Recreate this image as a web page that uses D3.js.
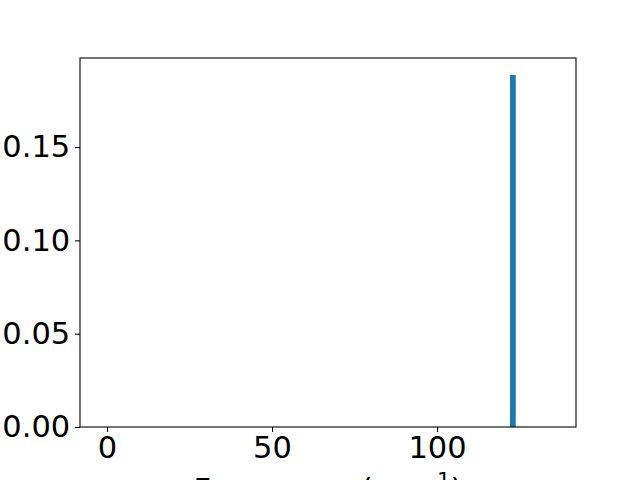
<!DOCTYPE html>
<html>
<head>
<meta charset="utf-8">
<script src="https://cdn.jsdelivr.net/npm/d3@7"></script>
<style>
  body { margin: 0; background: #fff; }
  svg { display: block; font-family: "DejaVu Sans", sans-serif; }
</style>
</head>
<body>
<div id="chart"></div>
<script>
// histogram bins (cm^-1) and density heights
const binStarts = [122.1];
const binEnds = [123.85];
const binHeights = [0.1886];
const xTicks = [0, 50, 100];
const yTicks = [0, 0.05, 0.10, 0.15];

const width = 640, height = 480;
const margin = { top: 58, right: 64, bottom: 53, left: 80 };
const fontSize = 30.5;

const svg = d3.select("#chart")
  .append("svg")
  .attr("width", width)
  .attr("height", height);

const x = d3.scaleLinear()
  .domain([-8.18, 142.1])
  .range([margin.left, width - margin.right]);

const y = d3.scaleLinear()
  .domain([0, 0.1977])
  .range([height - margin.bottom, margin.top]);

const bins = binStarts.map((s, i) => ({ x0: s, x1: binEnds[i], h: binHeights[i] }));

svg.append("g")
  .selectAll("rect")
  .data(bins)
  .join("rect")
  .attr("x", d => x(d.x0))
  .attr("width", d => x(d.x1) - x(d.x0))
  .attr("y", d => y(d.h))
  .attr("height", d => y(0) - y(d.h))
  .attr("fill", "#1f77b4");

const xAxis = svg.append("g")
  .attr("transform", `translate(0,${height - margin.bottom})`)
  .call(d3.axisBottom(x).tickValues(xTicks).tickFormat(d3.format("d")).tickSize(4.9).tickPadding(4.9));

const yAxis = svg.append("g")
  .attr("transform", `translate(${margin.left},0)`)
  .call(d3.axisLeft(y).tickValues(yTicks).tickFormat(d3.format(".2f")).tickSize(4.9).tickPadding(4.9));

[xAxis, yAxis].forEach(a => {
  a.select(".domain").remove();
  a.selectAll("line").attr("stroke", "#000").attr("stroke-width", 1.1);
  a.selectAll("text")
    .attr("fill", "#000")
    .style("font-size", fontSize + "px")
    .style("font-family", "'DejaVu Sans', sans-serif");
});

// frame
svg.append("rect")
  .attr("x", margin.left)
  .attr("y", margin.top)
  .attr("width", width - margin.left - margin.right)
  .attr("height", height - margin.top - margin.bottom)
  .attr("fill", "none")
  .attr("stroke", "#000")
  .attr("stroke-width", 1.1);

// x label (mostly cut off by the bottom edge, as in the reference)
const xl = svg.append("text")
  .attr("x", (margin.left + width - margin.right) / 2)
  .attr("y", 500)
  .attr("text-anchor", "middle")
  .attr("fill", "#000")
  .style("font-size", fontSize + "px");
xl.append("tspan").text("Frequency (cm");
xl.append("tspan").attr("dy", -12).style("font-size", (fontSize * 0.7) + "px").text("−1");
xl.append("tspan").attr("dy", 12).text(")");
</script>
</body>
</html>
